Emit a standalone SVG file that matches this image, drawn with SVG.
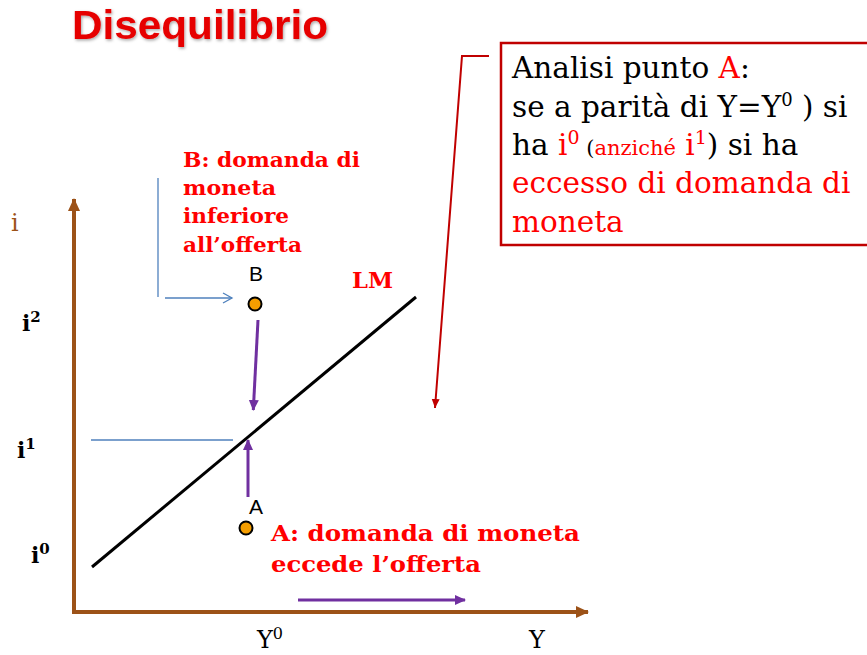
<svg xmlns="http://www.w3.org/2000/svg" width="867" height="655" viewBox="0 0 867 655">
<style>
.ser{font-family:"DejaVu Serif","Liberation Serif",serif}
.bold{font-weight:bold}
.red{fill:#FF0000}
.blk{fill:#000}
.ax{stroke:#9C5218;stroke-width:4;fill:none}
.pur{stroke:#7030A0;stroke-width:3;fill:none}
.blu{stroke:#4F81BD;stroke-width:1.3;fill:none}
.dot{fill:#F59E00;stroke:#000;stroke-width:2}
.lbl{font-family:"Liberation Sans",Arial,sans-serif;font-size:21px;fill:#000}
</style>
<defs>
<marker id="mAx" markerUnits="userSpaceOnUse" markerWidth="14" markerHeight="14" refX="12" refY="7" orient="auto">
<path d="M0,1 L13,7 L0,13 Z" fill="#9C5218"/>
</marker>
<marker id="mPur" markerUnits="userSpaceOnUse" markerWidth="12" markerHeight="12" refX="10" refY="6" orient="auto">
<path d="M0,1 L11,6 L0,11 Z" fill="#7030A0"/>
</marker>
<marker id="mRed" markerUnits="userSpaceOnUse" markerWidth="10" markerHeight="10" refX="9" refY="5" orient="auto">
<path d="M0,1 L9,5 L0,9 Z" fill="#C00000"/>
</marker>
<marker id="mBlu" markerUnits="userSpaceOnUse" markerWidth="12" markerHeight="12" refX="10" refY="6" orient="auto">
<path d="M1,1 L10,6 L1,11" fill="none" stroke="#4F81BD" stroke-width="1.3"/>
</marker>
<filter id="sh" x="-5%" y="-20%" width="110%" height="140%">
<feDropShadow dx="1" dy="1.5" stdDeviation="1.5" flood-color="#000" flood-opacity="0.35"/>
</filter>
</defs>

<g id="title">
<text x="72" y="39" font-family="Liberation Sans,Arial,sans-serif" font-weight="bold" font-size="40" fill="#E60000" textLength="256" lengthAdjust="spacingAndGlyphs" filter="url(#sh)">Disequilibrio</text>
</g>

<g id="axes">
<line class="ax" x1="74" y1="614" x2="74" y2="199" marker-end="url(#mAx)"/>
<line class="ax" x1="72" y1="612" x2="588" y2="612" marker-end="url(#mAx)"/>
<text x="11" y="231" class="ser" font-size="24" fill="#9C5218">i</text>
<text x="22" y="331" class="ser bold" font-size="22">i<tspan dy="-9" font-size="15">2</tspan></text>
<text x="17" y="458" class="ser bold" font-size="22">i<tspan dy="-9" font-size="15">1</tspan></text>
<text x="31" y="563" class="ser bold" font-size="22">i<tspan dy="-9" font-size="15">0</tspan></text>
<text x="257" y="648" class="ser" font-size="24">Y<tspan dy="-9" font-size="16">0</tspan></text>
<text x="529" y="648" class="ser" font-size="24">Y</text>
</g>

<g id="LM">
<line x1="92" y1="567" x2="416" y2="297" stroke="#000" stroke-width="3"/>
<text x="352" y="288" class="ser bold red" font-size="22" textLength="41" lengthAdjust="spacingAndGlyphs">LM</text>
</g>

<g id="pointB">
<circle class="dot" cx="255" cy="304" r="6.5"/>
<text x="249" y="281" class="lbl">B</text>
</g>

<g id="pointA">
<circle class="dot" cx="246" cy="528" r="6.5"/>
<text x="249" y="514" class="lbl">A</text>
</g>

<g id="labelB">
<text class="ser bold red" font-size="20">
<tspan x="183" y="167" textLength="177" lengthAdjust="spacingAndGlyphs">B: domanda di</tspan>
<tspan x="183" y="195" textLength="93" lengthAdjust="spacingAndGlyphs">moneta</tspan>
<tspan x="183" y="223" textLength="106" lengthAdjust="spacingAndGlyphs">inferiore</tspan>
<tspan x="183" y="252" textLength="119" lengthAdjust="spacingAndGlyphs">all’offerta</tspan>
</text>
</g>

<g id="labelA">
<text class="ser bold red" font-size="22">
<tspan x="271" y="541" textLength="309" lengthAdjust="spacingAndGlyphs">A: domanda di moneta</tspan>
<tspan x="271" y="572" textLength="210" lengthAdjust="spacingAndGlyphs">eccede l’offerta</tspan>
</text>
</g>

<g id="callout">
<rect x="501" y="43" width="380" height="202" fill="#fff" stroke="#C00000" stroke-width="2.5"/>
<text font-family="'DejaVu Serif', serif" font-size="29.5" fill="#000">
<tspan x="512" y="78">Analisi punto <tspan class="red">A</tspan>:</tspan>
<tspan x="512" y="117">se a parità di Y=Y<tspan dy="-11" font-size="18">0</tspan><tspan dy="11"> ) si</tspan></tspan>
<tspan x="512" y="155">ha <tspan class="red">i<tspan dy="-11" font-size="19">0</tspan></tspan><tspan dy="11" font-size="21"> (</tspan><tspan font-size="21" class="red">anziché</tspan><tspan class="red"> i<tspan dy="-11" font-size="19">1</tspan></tspan><tspan dy="11">) si ha</tspan></tspan>
<tspan x="512" y="193" class="red">eccesso di domanda di</tspan>
<tspan x="512" y="232" class="red">moneta</tspan>
</text>
</g>

<g id="connectors">
<polyline points="489,56 462,56 435,408" fill="none" stroke="#C00000" stroke-width="2" marker-end="url(#mRed)"/>
<line class="pur" x1="258" y1="320" x2="253.3" y2="410" marker-end="url(#mPur)"/>
<line class="pur" x1="248" y1="497" x2="248" y2="440" marker-end="url(#mPur)"/>
<line class="pur" x1="298" y1="600" x2="465" y2="600" marker-end="url(#mPur)"/>
<line class="blu" x1="91" y1="440" x2="233" y2="440"/>
<line class="blu" x1="158" y1="178" x2="158" y2="297"/>
<line class="blu" x1="165" y1="298" x2="232" y2="298" marker-end="url(#mBlu)"/>
</g>
</svg>
